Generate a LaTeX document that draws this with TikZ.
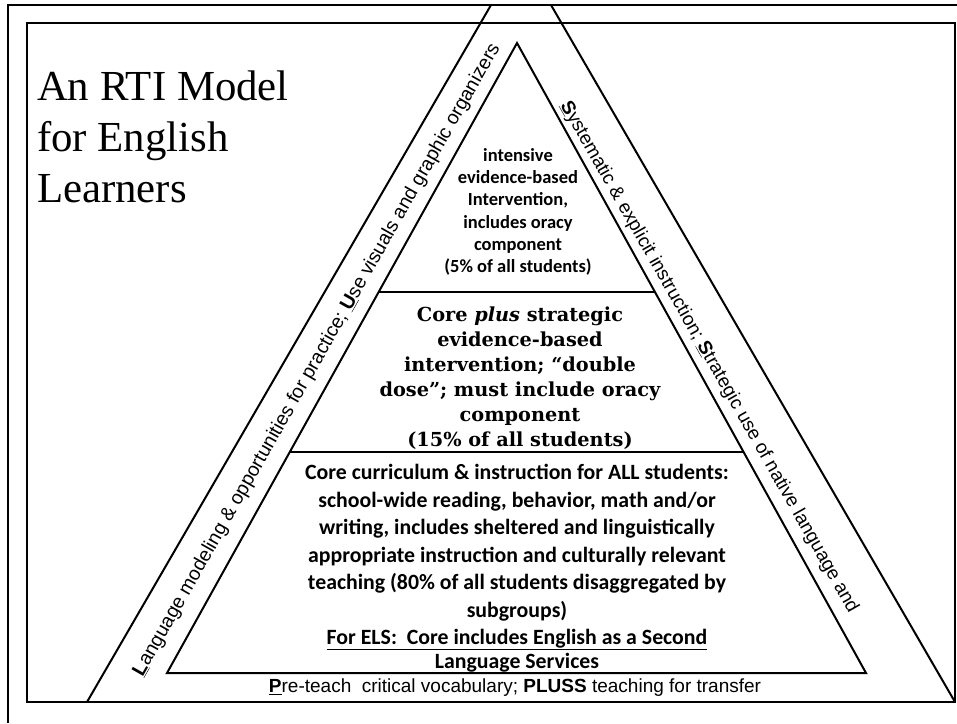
\documentclass[tikz,border=0pt]{standalone}
\usepackage{fontspec}
\setmainfont{Liberation Serif}
\newfontfamily\calibrifont{Carlito}
\newfontfamily\arialfont{Liberation Sans}
\newfontfamily\georgiafont{DejaVu Serif}
\usetikzlibrary{calc}

\tikzset{
  tier/.style={align=center, inner sep=0pt},
  band/.style={inner sep=0pt, font=\arialfont\fontsize{19.5}{22}\selectfont},
}

\begin{document}
\begin{tikzpicture}[x=1pt, y=-1pt, line width=2pt]
\useasboundingbox (0,0) rectangle (957,723);

% Frames
\draw (8,723) -- (8,5) -- (957,5);
\draw (27,23) rectangle (955,702);

% Outer triangle, cut by the top frame
\coordinate (otopl) at (491,5);
\coordinate (otopr) at (551,5);
\coordinate (oleft) at (87,702);
\coordinate (oright) at (955,702);
\draw (otopl) -- (oleft);
\draw (otopr) -- (oright);

% Pyramid and its tiers
\coordinate (apex) at (517,43);
\coordinate (bl) at (167,673);
\coordinate (br) at (866,673);
\coordinate (t1l) at ($(apex)!0.3952!(bl)$);
\coordinate (t1r) at ($(apex)!0.3952!(br)$);
\coordinate (t2l) at ($(apex)!0.6492!(bl)$);
\coordinate (t2r) at ($(apex)!0.6492!(br)$);
\draw (apex) -- (bl) -- (br) -- cycle;
\draw (t1l) -- (t1r);
\draw (t2l) -- (t2r);

% Title
\node[anchor=north west, inner sep=0pt, align=left, font=\fontsize{42.8}{51}\selectfont]
  (title) at (36,70) {An RTI Model\\for English\\Learners};

% Tier texts
\node[tier, font=\calibrifont\bfseries\fontsize{18.5}{22.2}\selectfont] (tiertop) at (518,212)
  {intensive\\evidence-based\\Intervention,\\includes oracy\\component\\(5\% of all students)};
\node[tier, font=\georgiafont\bfseries\fontsize{19.3}{25}\selectfont] (tiermid) at (520,378)
  {Core \textit{plus} strategic\\evidence-based\\intervention; “double\\dose”; must include oracy\\component\\(15\% of all students)};
\node[tier, font=\calibrifont\bfseries\fontsize{21.8}{27.5}\selectfont] (tierbase) at (517,569)
  {Core curriculum \& instruction for ALL students:\\school-wide reading, behavior, math and/or\\writing, includes sheltered and linguistically\\appropriate instruction and culturally relevant\\teaching (80\% of all students disaggregated by\\subgroups)\\\underline{For ELS:\ \ Core includes English as a Second}\\[-4pt]\underline{Language Services}};

% Texts along the sides
\node[band, rotate=60.4] (leftside) at (317,360)
  {\underline{\textbf{L}}anguage modeling \& opportunities for practice; \underline{\textbf{U}}se visuals and graphic organizers};
\node[band, rotate=-60.4, font=\arialfont\fontsize{19}{22}\selectfont] (rightside) at (709,357)
  {\underline{\textbf{S}}ystematic \& explicit instruction; \underline{\textbf{S}}trategic use of native language and};
\node[band, font=\arialfont\fontsize{19}{22}\selectfont] (pluss) at (515,688)
  {\underline{\textbf{P}}re-teach\ \ critical vocabulary; \textbf{PLUSS} teaching for transfer};
\end{tikzpicture}
\end{document}
